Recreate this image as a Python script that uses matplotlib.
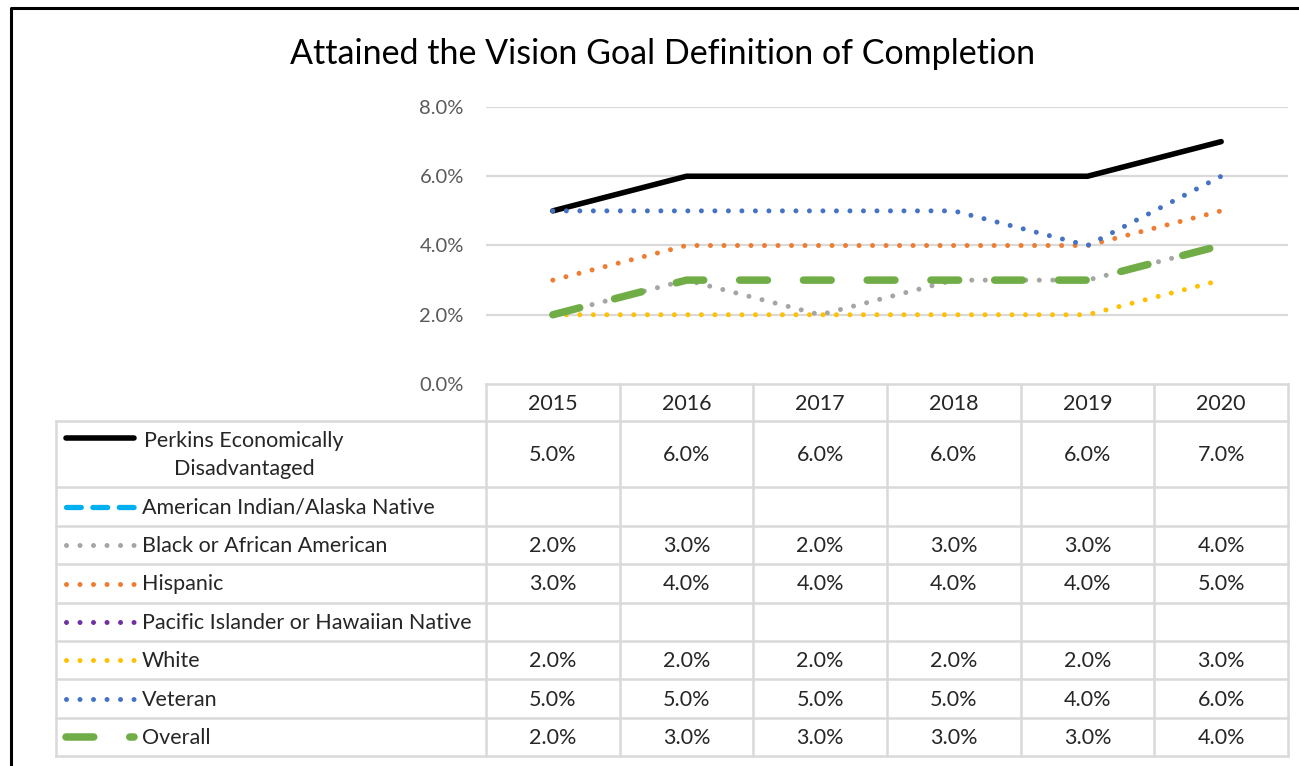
import numpy as np
import matplotlib
matplotlib.use("Agg")
import matplotlib.pyplot as plt
from matplotlib.lines import Line2D
from matplotlib.transforms import blended_transform_factory

# ---------------- data ----------------
years = ["2015", "2016", "2017", "2018", "2019", "2020"]
series_names = [
    "Perkins Economically\nDisadvantaged",
    "American Indian/Alaska Native",
    "Black or African American",
    "Hispanic",
    "Pacific Islander or Hawaiian Native",
    "White",
    "Veteran",
    "Overall",
]
perkins = [5.0, 6.0, 6.0, 6.0, 6.0, 7.0]
american_indian = [None, None, None, None, None, None]
black = [2.0, 3.0, 2.0, 3.0, 3.0, 4.0]
hispanic = [3.0, 4.0, 4.0, 4.0, 4.0, 5.0]
pacific = [None, None, None, None, None, None]
white = [2.0, 2.0, 2.0, 2.0, 2.0, 3.0]
veteran = [5.0, 5.0, 5.0, 5.0, 4.0, 6.0]
overall = [2.0, 3.0, 3.0, 3.0, 3.0, 4.0]
y_ticks = [0, 2, 4, 6, 8]
title = "Attained the Vision Goal Definition of Completion"

all_values = [perkins, american_indian, black, hispanic, pacific, white, veteran, overall]

# ---------------- styles ----------------
DPI = 100
W, H = 1299, 766
FONT = "Lato"
plt.rcParams["font.family"] = [FONT, "DejaVu Sans"]

styles = [
    dict(color="#000000", lw=4.0, ls="-", cap="round"),
    dict(color="#00B0F0", lw=3.8, ls=(0, (2.8, 2.2)), cap="round"),
    dict(color="#A5A5A5", lw=3.6, ls=(0, (0.001, 2.7)), cap="round"),
    dict(color="#ED7D31", lw=3.6, ls=(0, (0.001, 2.7)), cap="round"),
    dict(color="#7030A0", lw=3.6, ls=(0, (0.001, 2.7)), cap="round"),
    dict(color="#FFC000", lw=3.6, ls=(0, (0.001, 2.7)), cap="round"),
    dict(color="#4472C4", lw=3.6, ls=(0, (0.001, 2.7)), cap="round"),
    dict(color="#70AD47", lw=5.4, ls=(0, (3.7, 4.8)), cap="round"),
]

fig = plt.figure(figsize=(W / DPI, H / DPI), dpi=DPI)
fig.patch.set_facecolor("white")

def fx(x):
    return x / W

def fy(y):
    return 1 - y / H

# plot area in pixel layout
PL, PR, PT, PB = 486, 1288, 107, 384
ax = fig.add_axes([fx(PL), fy(PB), fx(PR) - fx(PL), fy(PT) - fy(PB)])
ax.set_xlim(-0.5, len(years) - 0.5)
ax.set_ylim(0, 8)
for s in ax.spines.values():
    s.set_visible(False)
ax.set_facecolor("none")
ax.set_xticks([])
ax.set_yticks(y_ticks)
ax.set_yticklabels([f"{v:.1f}%" for v in y_ticks], fontsize=14.5, color="#595959")
ax.tick_params(axis="y", length=0, pad=16)
for v in y_ticks[1:]:
    ax.axhline(v, color="#D9D9D9", lw=1.6, zorder=0)

x = np.arange(len(years))
for vals, st in zip(all_values, styles):
    arr = np.array([np.nan if v is None else v for v in vals], dtype=float)
    ax.plot(x, arr, color=st["color"], lw=st["lw"], linestyle=st["ls"],
            dash_capstyle=st["cap"], solid_capstyle="round", solid_joinstyle="round",
            zorder=3)

# ---------------- table overlay ----------------
tab = fig.add_axes([0, 0, 1, 1])
tab.set_xlim(0, W)
tab.set_ylim(H, 0)
tab.axis("off")
tab.set_zorder(-1)
blend = blended_transform_factory(ax.transData, tab.transData)

GRID = "#D9D9D9"
GLW = 1.8
TXT = "#262626"
FS = 15.5
header_top, header_bot = 384, 421
row_edges = [421, 487, 526, 564, 603, 641, 679, 718, 756]
left_x = 56

# horizontal lines
tab.plot([PL, PR], [header_top, header_top], color=GRID, lw=GLW)
for ye in row_edges:
    tab.plot([left_x, PR], [ye, ye], color=GRID, lw=GLW)
# vertical lines
tab.plot([left_x, left_x], [row_edges[0], row_edges[-1]], color=GRID, lw=GLW)
for i in range(len(years) + 1):
    xb = i - 0.5
    tab.plot([xb, xb], [header_top, row_edges[-1]], color=GRID, lw=GLW, transform=blend)

# header
for i, yr in enumerate(years):
    tab.text(i, (header_top + header_bot) / 2 + 1, yr, transform=blend, ha="center",
             va="center", fontsize=FS, color=TXT)

# rows
for r, (name, vals, st) in enumerate(zip(series_names, all_values, styles)):
    yc = (row_edges[r] + row_edges[r + 1]) / 2
    for i, v in enumerate(vals):
        if v is not None:
            tab.text(i, yc + 1, f"{v:.1f}%", transform=blend, ha="center", va="center",
                     fontsize=FS, color=TXT)
    if "\n" in name:
        key_y = row_edges[r] + 17
        tab.text(244, yc + 1, name, ha="center", va="center", multialignment="center",
                 fontsize=FS, color=TXT, linespacing=1.45)
    else:
        key_y = yc
        tab.text(142, yc + 1, name, ha="left", va="center", fontsize=FS, color=TXT)
    tab.add_line(Line2D([66, 134], [key_y, key_y], color=st["color"], lw=st["lw"],
                        linestyle=st["ls"], dash_capstyle=st["cap"],
                        solid_capstyle="round"))

# title
fig.text(fx(663), fy(54), title, ha="center", va="center", fontsize=24.5, color="#000000")

# outer border (left and top)
fig.add_artist(Line2D([fx(11), fx(11), fx(W)], [0, fy(8), fy(8)], color="black",
                      lw=2.2, transform=fig.transFigure))

fig.savefig("out.png", dpi=DPI)
